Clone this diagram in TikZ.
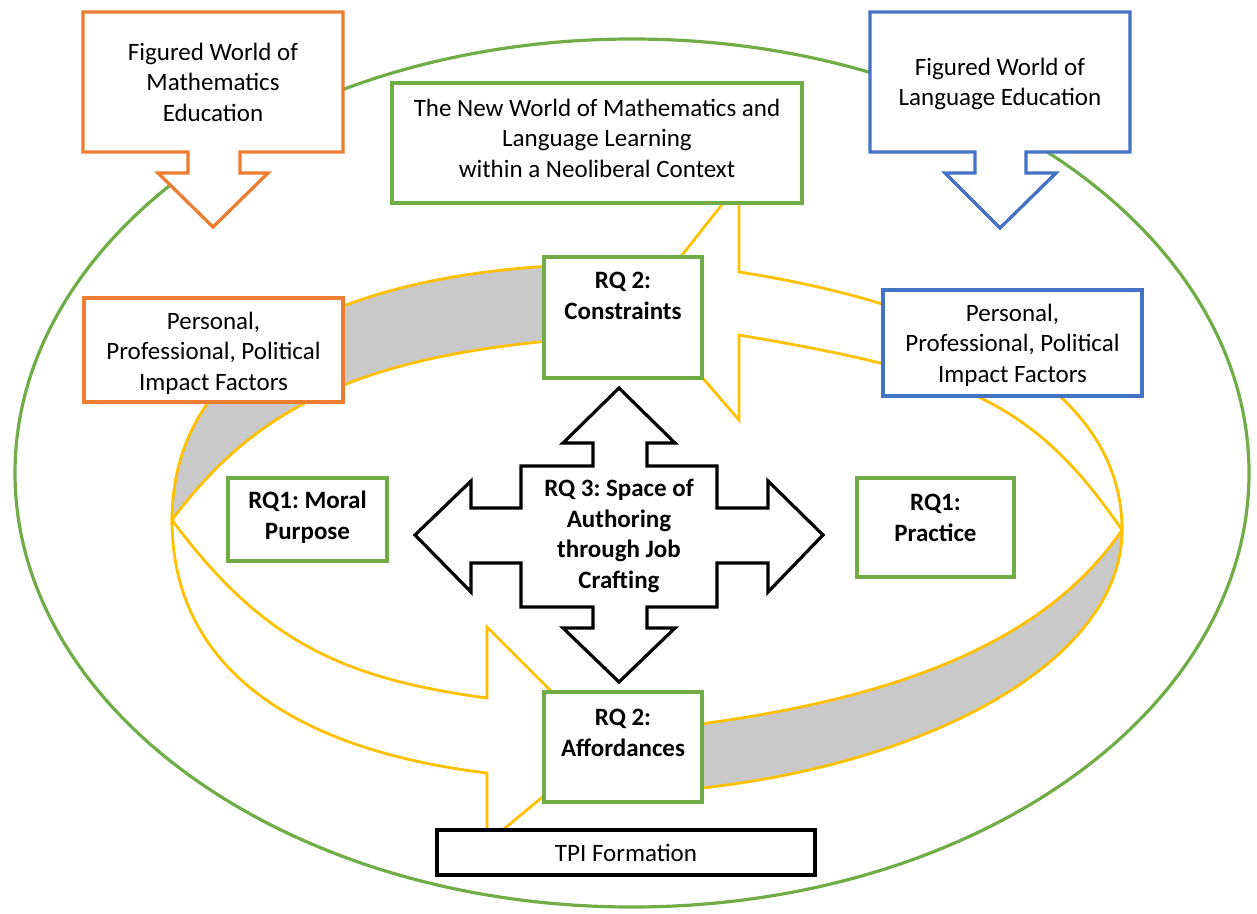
\documentclass[tikz,border=0pt]{standalone}
\usepackage{fontspec}
\setmainfont{Carlito}
\frenchspacing
\definecolor{fworange}{HTML}{ED7D31}
\definecolor{fwblue}{HTML}{4472C4}
\definecolor{fwgreen}{HTML}{70AD47}
\definecolor{ringgold}{HTML}{FFC000}
\definecolor{ringgray}{HTML}{C9C9C9}
\begin{document}
\begin{tikzpicture}[x=1pt,y=-1pt,
  lbl/.style={font=\fontsize{25}{30.5}\selectfont, align=center, inner sep=0pt},
  lblb/.style={font=\fontsize{25}{30.5}\selectfont\bfseries, align=center, inner sep=0pt},
  boxframe/.style={draw, fill=white, line width=3.3pt, inner sep=0pt},
  ring/.style={draw=ringgold, line width=2.8pt, line join=miter}]

% canvas
\fill[white] (0,0) rectangle (1257,913);
\useasboundingbox (0,0) rectangle (1257,913);

% outer context ellipse
\draw[fwgreen, line width=3.2pt] (632,473) ellipse [x radius=617pt, y radius=434pt];

% ---- circular arrow, left half: back side (grey) over the top-left
\filldraw[ring, fill=ringgray]
  (620,264) .. controls (350,264) and (172,350) .. (172,520)
  .. controls (259.5,402.5) and (370,348.5) .. (620,336) -- cycle;
% front side (white) down the left, ending in the head at the bottom
\filldraw[ring, fill=white]
  (172,520) .. controls (172,670) and (297,750) .. (487,773)
  -- (487,843) -- (605,745) -- (487,627) -- (487,698)
  .. controls (337,678) and (259.5,637.5) .. (172,520) -- cycle;

% ---- circular arrow, right half: front side (white) over the top-right, head at the top
\filldraw[ring, fill=white]
  (739,272) .. controls (939,303) and (1122,380) .. (1122,530)
  .. controls (1032,398.6) and (959,372.4) .. (739,335)
  -- (739,420) -- (641,307) -- (739,183) -- cycle;
% back side (grey) along the bottom-right
\filldraw[ring, fill=ringgray]
  (1122,530) .. controls (1044,644) and (890,706) .. (640,731)
  -- (640,793) .. controls (900,780) and (1122,670) .. (1122,530) -- cycle;

% ---- four-way arrow in the centre
\coordinate (hub) at (619,535);
\filldraw[draw=black, fill=white, line width=3.2pt]
  (619,388) -- (675,443) -- (647,443) -- (647,466) -- (717,466) -- (717,508)
  -- (768,508) -- (768,481) -- (823,535) -- (768,592) -- (768,563) -- (717,563)
  -- (717,607) -- (647,607) -- (647,628) -- (675,628) -- (619,682) -- (563,628)
  -- (593,628) -- (593,607) -- (521,607) -- (521,563) -- (471,563) -- (471,592)
  -- (415,535) -- (471,481) -- (471,508) -- (521,508) -- (521,466) -- (593,466)
  -- (593,443) -- (563,443) -- cycle;
\node[lblb] (rq3) at (619,536) {RQ 3: Space of\\Authoring\\through Job\\Crafting};

% ---- figured worlds (boxes with downward arrows)
\filldraw[draw=fworange, fill=white, line width=3.3pt]
  (83,12) -- (343,12) -- (343,152) -- (240,152) -- (240,173) -- (268,173)
  -- (213,227) -- (158,173) -- (188,173) -- (188,152) -- (83,152) -- cycle;
\node[lbl] (mathfw) at (213,82) {Figured World of\\Mathematics\\Education};

\filldraw[draw=fwblue, fill=white, line width=3.3pt]
  (870,12) -- (1130,12) -- (1130,152) -- (1026,152) -- (1026,173) -- (1056,173)
  -- (1000,228) -- (945,173) -- (975,173) -- (975,152) -- (870,152) -- cycle;
\node[lbl] (langfw) at (1000,84) {Figured World of\\Language Education};

% ---- context box
\node[boxframe, draw=fwgreen, minimum width=410pt, minimum height=120pt] (newworld) at (597,143) {};
\node[lbl] (newworld-t) at (597,138) {The New World of Mathematics and\\Language Learning\\within a Neoliberal Context};

% ---- impact factors
\node[boxframe, draw=fworange, minimum width=259pt, minimum height=104pt] (impactL) at (213.5,350) {};
\node[lbl] (impactL-t) at (213.5,353) {Personal,\\Professional, Political\\Impact Factors};
\node[boxframe, draw=fwblue, minimum width=259pt, minimum height=106pt] (impactR) at (1012.5,343) {};
\node[lbl] (impactR-t) at (1012.5,345) {Personal,\\Professional, Political\\Impact Factors};

% ---- research questions
\node[boxframe, draw=fwgreen, minimum width=158pt, minimum height=121pt] (constraints) at (623,317.5) {};
\node[lblb] (constraints-t) at (623,296) {RQ 2:\\Constraints};
\node[boxframe, draw=fwgreen, minimum width=159pt, minimum height=83pt] (moral) at (307.5,519.5) {};
\node[lblb] (moral-t) at (307.5,517) {RQ1: Moral\\Purpose};
\node[boxframe, draw=fwgreen, minimum width=157pt, minimum height=99pt] (practice) at (935.5,527.5) {};
\node[lblb] (practice-t) at (935.5,518) {RQ1:\\Practice};
\node[boxframe, draw=fwgreen, minimum width=158pt, minimum height=110pt] (afford) at (623,747) {};
\node[lblb] (afford-t) at (623,733) {RQ 2:\\Affordances};

% ---- outcome
\node[boxframe, draw=black, minimum width=378pt, minimum height=45pt, lbl] (tpi) at (626,852.5) {TPI Formation};
\end{tikzpicture}
\end{document}
